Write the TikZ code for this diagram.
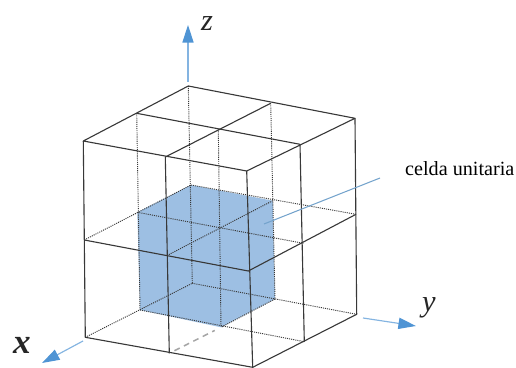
\documentclass[tikz,border=0pt]{standalone}
\usepackage{fontspec}
\setmainfont{Liberation Serif}
\usetikzlibrary{arrows.meta,calc}
\definecolor{cellblue}{HTML}{9DBFE3}
\definecolor{axisblue}{HTML}{4F94D4}
\definecolor{leadblue}{HTML}{74A3CC}
\definecolor{edgegrey}{HTML}{383838}
\tikzset{
  solidedge/.style  = {draw=edgegrey, line width=0.95pt, line join=round},
  hiddenedge/.style = {draw=edgegrey, line width=0.8pt, dash pattern=on 0.9pt off 0.9pt},
  fadededge/.style  = {draw=gray!70, line width=1.3pt, dash pattern=on 5pt off 4pt},
  axisarrow/.style  = {-{Triangle[length=15pt,width=9.5pt,color=axisblue,fill=axisblue]},
                       draw=axisblue!70, line width=1pt},
  leader/.style     = {draw=leadblue, line width=0.9pt},
  axislbl/.style    = {font=\fontsize{26}{26}\selectfont\itshape, text=black!85, inner sep=0pt},
  calllbl/.style    = {font=\fontsize{17.2}{20}\selectfont, text=black, inner sep=0pt},
}
\begin{document}
\begin{tikzpicture}[x=0.3mm,y=-0.3mm]
  \useasboundingbox (0,0) rectangle (516,368);

  % ---------- corners: top level ------------------------------------------
  \coordinate (tback)  at (188.3, 86.0);
  \coordinate (tleft)  at ( 83.3,141.0);
  \coordinate (tright) at (355.0,118.3);
  \coordinate (tfront) at (246.7,171.0);
  \coordinate (tbl)    at (136.7,113.3);
  \coordinate (tbr)    at (270.7,103.3);
  \coordinate (tcen)   at (218.3,129.3);
  \coordinate (tfl)    at (165.3,157.0);
  \coordinate (tfr)    at (300.0,144.3);

  % ---------- corners: middle level ---------------------------------------
  \coordinate (mback)  at (191.0,185.0);
  \coordinate (mleft)  at ( 84.3,240.0);
  \coordinate (mright) at (356.0,214.3);
  \coordinate (mfront) at (248.3,271.0);
  \coordinate (mbl)    at (137.3,212.3);
  \coordinate (mbr)    at (272.7,200.7);
  \coordinate (mcen)   at (220.0,227.7);
  \coordinate (mfl)    at (166.7,255.7);
  \coordinate (mfr)    at (303.3,243.3);

  % ---------- corners: bottom level ---------------------------------------
  \coordinate (bback)  at (192.3,283.3);
  \coordinate (bleft)  at ( 85.3,337.3);
  \coordinate (bright) at (356.7,314.3);
  \coordinate (bfront) at (252.7,367.3);
  \coordinate (bbl)    at (140.0,310.0);
  \coordinate (bbr)    at (275.0,299.0);
  \coordinate (bcen)   at (221.0,327.3);
  \coordinate (bfl)    at (169.3,353.3);
  \coordinate (bfr)    at (304.3,341.7);

  % unit cell
  \fill[cellblue] (mbl) -- (mback) -- (mbr) -- (bbr) -- (bcen) -- (bbl) -- cycle;

  % hidden edges
  \foreach \a/\b in {tback/bback, tbl/bbl, tbr/bbr, tcen/bcen,
                     mleft/mback, mback/mright, mbl/mfr, mbr/mfl,
                     bleft/bback, bback/bright, bbl/bfr, bbr/bcen}
    \draw[hiddenedge] (\a) -- (\b);
  \coordinate (fadeA) at ($(bfl)!0.1!(bcen)$);
  \coordinate (fadeB) at ($(bfl)!0.88!(bcen)$);
  \draw[fadededge] (fadeA) -- (fadeB);

  % visible edges
  \draw[solidedge] (tback) -- (tright) -- (tfront) -- (tleft) -- cycle;
  \draw[solidedge] (tbl) -- (tfr);
  \draw[solidedge] (tbr) -- (tfl);
  \draw[solidedge] (tleft) -- (bleft) -- (bfront) -- (bright) -- (tright);
  \draw[solidedge] (tfl) -- (bfl);
  \draw[solidedge] (tfront) -- (bfront);
  \draw[solidedge] (tfr) -- (bfr);
  \draw[solidedge] (mleft) -- (mfront) -- (mright);

  % ---------- axes ---------------------------------------------------------
  \coordinate (zstart) at (188,82);
  \coordinate (ztip)   at (188,25);
  \coordinate (xstart) at (83,341);
  \coordinate (xtip)   at (42,363);
  \coordinate (ystart) at (363,318);
  \coordinate (ytip)   at (416,326);
  \draw[axisarrow] (zstart) -- (ztip);
  \draw[axisarrow] (xstart) -- (xtip);
  \draw[axisarrow] (ystart) -- (ytip);
  \node[axislbl] (zlbl) at (207,24) {z};
  \node[axislbl, font=\fontsize{30}{30}\selectfont\itshape\bfseries] (xlbl) at (22,345) {x};
  \node[axislbl] (ylbl) at (429,308) {y};

  % label of the cell
  \node[calllbl, anchor=west] (celllbl) at (405,169) {celda unitaria};
  \coordinate (leadstart) at (380,178);
  \coordinate (leadend)   at (264,224);
  \draw[leader] (leadstart) -- (leadend);

\end{tikzpicture}
\end{document}
